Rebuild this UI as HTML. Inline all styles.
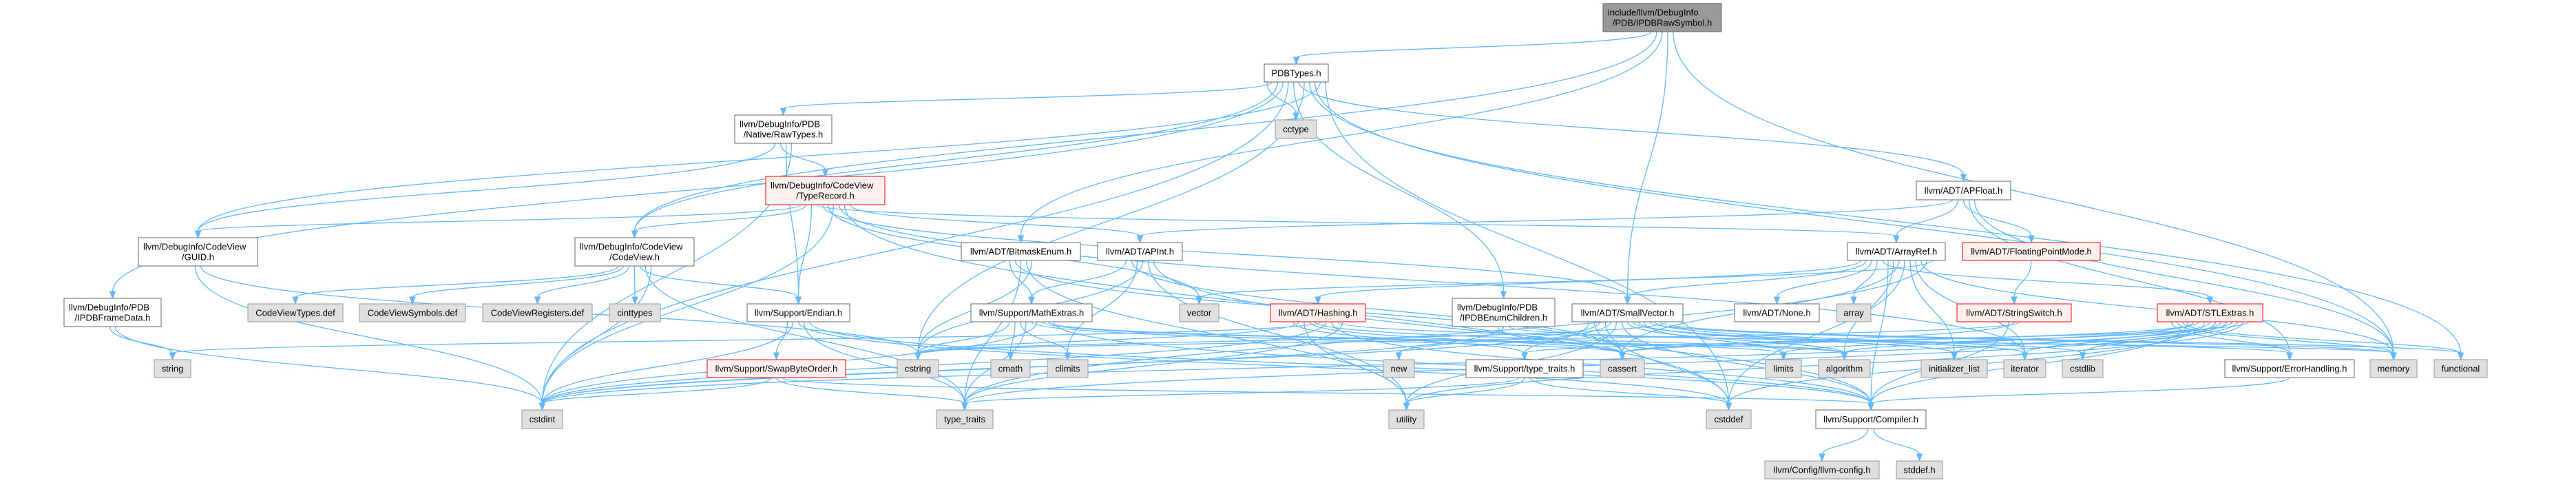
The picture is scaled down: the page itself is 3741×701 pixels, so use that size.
<!DOCTYPE html>
<html><head><meta charset="utf-8"><style>
html,body{margin:0;padding:0;background:#fff;width:3741px;height:701px;overflow:hidden}
svg{position:absolute;left:0;top:0}
text{font-family:"Liberation Sans",Arial,sans-serif;font-size:13px;fill:#000}
</style></head><body>
<svg id="g" width="3741" height="701" xmlns="http://www.w3.org/2000/svg"></svg>
<script>
const N={
main:[2328,5,2500,46,'m',['include/llvm/DebugInfo','/PDB/IPDBRawSymbol.h']],
PDBTypes:[1836,93,1929,119,'w',['PDBTypes.h']],
cctype:[1852,174,1912,201,'s',['cctype']],
RawTypes:[1067,167,1208,208,'w',['llvm/DebugInfo/PDB','/Native/RawTypes.h']],
TypeRecord:[1112,256,1285,297,'r',['llvm/DebugInfo/CodeView','/TypeRecord.h']],
GUID:[201,345,374,386,'w',['llvm/DebugInfo/CodeView','/GUID.h']],
CodeViewH:[835,345,1008,386,'w',['llvm/DebugInfo/CodeView','/CodeView.h']],
APFloat:[2783,263,2920,290,'w',['llvm/ADT/APFloat.h']],
IPDBFrameData:[93,433,234,474,'w',['llvm/DebugInfo/PDB','/IPDBFrameData.h']],
CVTypes:[360,441,498,467,'s',['CodeViewTypes.def']],
CVSymbols:[522,441,676,467,'s',['CodeViewSymbols.def']],
CVRegs:[701,441,860,467,'s',['CodeViewRegisters.def']],
cinttypes:[885,441,959,467,'s',['cinttypes']],
Endian:[1085,441,1234,467,'w',['llvm/Support/Endian.h']],
string:[224,522,277,548,'s',['string']],
Swap:[1027,522,1228,548,'r',['llvm/Support/SwapByteOrder.h']],
cstdint:[758,595,817,622,'s',['cstdint']],
Bitmask:[1396,352,1569,378,'w',['llvm/ADT/BitmaskEnum.h']],
APInt:[1594,352,1717,378,'w',['llvm/ADT/APInt.h']],
Math:[1410,441,1586,467,'w',['llvm/Support/MathExtras.h']],
vector:[1713,441,1770,467,'s',['vector']],
Hashing:[1845,441,1983,467,'r',['llvm/ADT/Hashing.h']],
Enum:[2109,433,2258,474,'w',['llvm/DebugInfo/PDB','/IPDBEnumChildren.h']],
Small:[2283,441,2444,467,'w',['llvm/ADT/SmallVector.h']],
cstring:[1303,522,1363,548,'s',['cstring']],
cmath:[1439,522,1496,548,'s',['cmath']],
climits:[1521,522,1580,548,'s',['climits']],
new:[2009,522,2054,548,'s',['new']],
tth:[2129,522,2299,548,'w',['llvm/Support/type_traits.h']],
cassert:[2324,522,2388,548,'s',['cassert']],
tt:[1360,595,1442,622,'s',['type_traits']],
utility:[2017,595,2068,622,'s',['utility']],
cstddef:[2478,595,2543,622,'s',['cstddef']],
ArrayRef:[2683,352,2825,378,'w',['llvm/ADT/ArrayRef.h']],
FPM:[2850,352,3050,378,'r',['llvm/ADT/FloatingPointMode.h']],
None:[2519,441,2642,467,'w',['llvm/ADT/None.h']],
array:[2667,441,2717,467,'s',['array']],
SS:[2842,441,3008,467,'r',['llvm/ADT/StringSwitch.h']],
STL:[3133,441,3286,467,'r',['llvm/ADT/STLExtras.h']],
limits:[2564,522,2616,548,'s',['limits']],
algorithm:[2641,522,2716,548,'s',['algorithm']],
il:[2790,522,2886,548,'s',['initializer_list']],
iterator:[2910,522,2971,548,'s',['iterator']],
cstdlib:[2995,522,3054,548,'s',['cstdlib']],
EH:[3231,522,3419,548,'w',['llvm/Support/ErrorHandling.h']],
memory:[3442,522,3510,548,'s',['memory']],
functional:[3535,522,3612,548,'s',['functional']],
Compiler:[2637,595,2797,622,'w',['llvm/Support/Compiler.h']],
cfg:[2563,669,2729,695,'s',['llvm/Config/llvm-config.h']],
stddef:[2754,669,2821,695,'s',['stddef.h']]
};
const E={
main:['PDBTypes','CodeViewH','Bitmask','Small','memory'],
PDBTypes:['cctype','RawTypes','CodeViewH','IPDBFrameData','cstdint','Enum','APFloat','cstring','functional','memory','GUID','cstddef'],
RawTypes:['GUID','TypeRecord','Endian','cstdint'],
TypeRecord:['GUID','CodeViewH','Endian','ArrayRef','Small','vector','cstdint','iterator','cstddef','APInt'],
GUID:['cstdint','cstring'],
IPDBFrameData:['string','cstdint'],
CodeViewH:['CVTypes','CVSymbols','CVRegs','cinttypes','Endian','tt','cstdint'],
Endian:['Swap','cstdint','cstddef','tt','Compiler'],
Swap:['cstdint','tt','Compiler'],
Bitmask:['Math','cassert','tt','utility','cstring'],
APInt:['Math','cassert','climits','cstring','utility','Compiler'],
Math:['cstring','cmath','climits','tt','cassert','cstdint','limits','algorithm','Compiler'],
Hashing:['tth','cstring','utility','cassert','algorithm','string','cstdint','Compiler','EH','tt'],
Enum:['cassert','cstdint','memory'],
Small:['tth','cassert','new','cstddef','cstdint','utility','Compiler','algorithm','iterator','il','limits','memory','cstdlib','functional','cstring'],
tth:['tt','utility','cstddef'],
ArrayRef:['Hashing','Small','None','array','STL','Compiler','algorithm','cassert','cstddef','il','iterator','memory','tt','vector'],
APFloat:['APInt','ArrayRef','FPM','EH','memory'],
FPM:['SS'],
SS:['Compiler','cassert','cstring'],
STL:['EH','memory','functional','Compiler','algorithm','cassert','cstddef','cstdint','cstdlib','il','iterator','limits','tt','utility','tth'],
EH:['Compiler'],
Compiler:['cfg','stddef']
};
const ns='http://www.w3.org/2000/svg',g=document.getElementById('g');
function el(t,a,p){const e=document.createElementNS(ns,t);for(const k in a)e.setAttribute(k,a[k]);(p||g).appendChild(e);return e;}
const eg=el('g',{}),ng=el('g',{});
const C='#63b8ff';
for(const s in E){const A=N[s];const cnt=E[s].length;E[s].forEach((t,i)=>{const B=N[t];
 let sx=(A[0]+A[2])/2+(i-(cnt-1)/2)*Math.min(8,(A[2]-A[0])/cnt),sy=A[3];
 let tx=(B[0]+B[2])/2,ty=B[1];let p;
 if(B[1]<A[3]-5){ // target above or same-ish rank: side
  sy=(A[1]+A[3])/2;ty=(B[1]+B[3])/2;
  if(B[0]>A[2]){sx=A[2];tx=B[0];}else{sx=A[0];tx=B[2];}
  const d=(tx-sx)*0.4;
  p=`M${sx},${sy} C${sx+d},${sy} ${tx-d},${ty} ${tx},${ty}`;
  var ang=Math.sign(tx-sx)>0?0:Math.PI;
 } else {
  const dy=ty-sy;
  p=`M${sx},${sy} C${sx},${sy+dy*0.5} ${tx},${ty-dy*0.5} ${tx},${ty-9}`;
  var ang=Math.PI/2;
 }
 el('path',{d:p,fill:'none',stroke:C,'stroke-width':1.3},eg);
 const ex=ang===Math.PI/2?tx:tx,ey=ang===Math.PI/2?ty:ty;
 const bx=ex-10*Math.cos(ang),by=ey-10*Math.sin(ang);
 const px=-Math.sin(ang)*4,py=Math.cos(ang)*4;
 el('polygon',{points:`${ex},${ey} ${bx+px},${by+py} ${bx-px},${by-py}`,fill:C,stroke:C},eg);
});}
for(const k in N){const [x1,y1,x2,y2,ty,L]=N[k];
 let f='#fff',s='#666';if(ty==='s'){f='#e0e0e0';s='#999';}if(ty==='r'){f='#fff0f0';s='#f00';}if(ty==='m'){f='#999';s='#666';}
 el('rect',{x:x1,y:y1,width:x2-x1,height:y2-y1,fill:f,stroke:s,'stroke-width':1},ng);
 const cx=(x1+x2)/2,cy=(y1+y2)/2;
 L.forEach((t,i)=>{const yy=cy+(i-(L.length-1)/2)*15+4.5;
  const te=el('text',{x:L.length>1?x1+7:cx,y:yy,'text-anchor':L.length>1?'start':'middle'},ng);te.textContent=t;});
 if(L.length>1){ng.lastChild.setAttribute('x',cx);ng.lastChild.setAttribute('text-anchor','middle');}
}
</script>
</body></html>
